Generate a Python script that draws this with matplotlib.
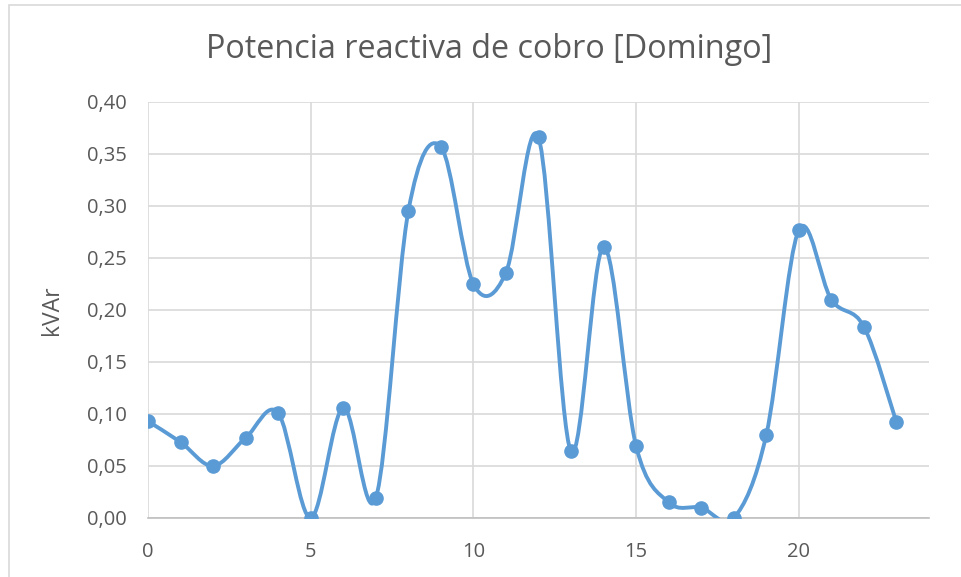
import numpy as np
import matplotlib
matplotlib.use("Agg")
import matplotlib.pyplot as plt
from matplotlib.path import Path
from matplotlib.patches import PathPatch, Rectangle
from matplotlib.ticker import FuncFormatter

# datos
horas = list(range(24))
kvar = [0.093, 0.073, 0.050, 0.077, 0.101, 0.000, 0.106, 0.019,
        0.295, 0.357, 0.225, 0.236, 0.366, 0.064, 0.261, 0.069,
        0.015, 0.010, 0.000, 0.080, 0.277, 0.210, 0.184, 0.092]

azul = "#5B9BD5"
gris_txt = "#595959"
plt.rcParams['font.family'] = ['Open Sans', 'DejaVu Sans']

fig = plt.figure(figsize=(9.61, 5.77), dpi=100)
ax = fig.add_axes([148 / 961, 1 - 518 / 577, (929 - 148) / 961, (518 - 102) / 577])

# borde del área del gráfico
fig.patches.append(Rectangle((9 / 961, -0.05), 1.0, 1 - 5 / 577 + 0.05,
                             transform=fig.transFigure, fill=False,
                             edgecolor="#d9d9d9", linewidth=1.2))


# curva suavizada tipo Excel (bezier cardinal)
def curva_suave(x, y):
    x = np.asarray(x, float)
    y = np.asarray(y, float)
    px = np.concatenate([[x[0]], x, [x[-1]]])
    py = np.concatenate([[y[0]], y, [y[-1]]])
    verts = [(x[0], y[0])]
    codes = [Path.MOVETO]
    for i in range(1, len(x)):
        c1 = (px[i] + (px[i + 1] - px[i - 1]) / 6, py[i] + (py[i + 1] - py[i - 1]) / 6)
        c2 = (px[i + 1] - (px[i + 2] - px[i]) / 6, py[i + 1] - (py[i + 2] - py[i]) / 6)
        verts += [c1, c2, (x[i], y[i])]
        codes += [Path.CURVE4] * 3
    return Path(verts, codes)


ax.add_patch(PathPatch(curva_suave(horas, kvar), facecolor="none",
                       edgecolor=azul, linewidth=2.8, zorder=3,
                       capstyle="round", joinstyle="round"))
ax.plot(horas, kvar, linestyle="none", marker="o", markersize=9.5,
        color=azul, zorder=4)

ax.set_xlim(0, 24)
ax.set_ylim(0, 0.40)
ax.set_xticks([0, 5, 10, 15, 20])
ax.set_yticks(np.arange(0, 0.401, 0.05))
ax.yaxis.set_major_formatter(FuncFormatter(lambda v, p: f"{v:.2f}".replace(".", ",")))
ax.grid(True, color="#d9d9d9", linewidth=1.2)
ax.set_axisbelow(True)
ax.tick_params(length=0, labelsize=14.5, colors=gris_txt)
ax.tick_params(axis="x", pad=17)
ax.tick_params(axis="y", pad=15)
for s in ["top", "right", "left"]:
    ax.spines[s].set_visible(False)
ax.spines["bottom"].set_color("#bfbfbf")
ax.spines["bottom"].set_linewidth(1.2)

ax.set_ylabel("kVAr", fontsize=16.5, color=gris_txt)
ax.yaxis.set_label_coords((64 - 148) / 781, 0.5)
fig.text(489 / 961, 1 - 50 / 577, "Potencia reactiva de cobro [Domingo]",
         ha="center", va="center", fontsize=23.3, color=gris_txt)

fig.savefig("out.png", dpi=100)
